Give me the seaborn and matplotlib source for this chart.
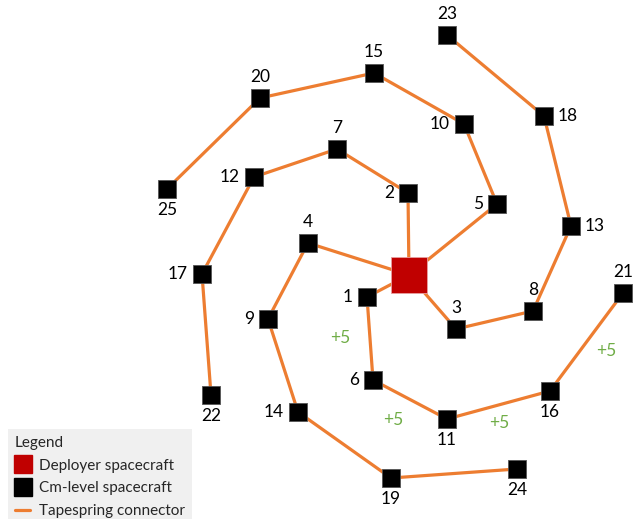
import pandas as pd
import numpy as np
import seaborn as sns
import matplotlib.pyplot as plt
from matplotlib.lines import Line2D

# node positions (pixel grid of the original picture)
node_ids = ['D', '1', '2', '3', '4', '5', '6', '7', '8', '9', '10', '11', '12', '13',
            '14', '15', '16', '17', '18', '19', '20', '21', '22', '23', '24', '25']
node_x = [409, 367, 408, 456, 308, 497, 373, 337, 533, 268, 464, 447, 254, 571,
          298, 374, 550, 202, 544, 391, 260, 623, 211, 447, 517, 167]
node_y = [275, 297, 193, 329, 243, 204, 380, 149, 311, 319, 124, 419, 177, 226,
          412, 73, 391, 274, 116, 478, 98, 293, 395, 35, 469, 189]

# spiral arms of tapespring connectors, starting at the deployer
arms = [['D', '1', '6', '11', '16', '21'],
        ['D', '2', '7', '12', '17', '22'],
        ['D', '3', '8', '13', '18', '23'],
        ['D', '4', '9', '14', '19', '24'],
        ['D', '5', '10', '15', '20', '25']]

# which side each number is written on
label_side = {'1': 'left', '2': 'left', '3': 'above', '4': 'above', '5': 'left',
              '6': 'left', '7': 'above', '8': 'above', '9': 'left', '10': 'left',
              '11': 'below', '12': 'left', '13': 'right', '14': 'left', '15': 'above',
              '16': 'below', '17': 'left', '18': 'right', '19': 'below', '20': 'above',
              '21': 'above', '22': 'below', '23': 'above', '24': 'below', '25': 'below'}

# green "+5" notes
gain_text = ['+5', '+5', '+5', '+5']
gain_x = [340, 393, 499, 606]
gain_y = [338, 420, 423, 351]

orange = '#ED7D31'
red = '#C00000'
green = '#70AD47'

nodes = pd.DataFrame({'id': node_ids, 'x': node_x, 'y': node_y})
nodes['kind'] = np.where(nodes['id'] == 'D', 'Deployer spacecraft', 'Cm-level spacecraft')
pos = nodes.set_index('id')

rows = []
for i, arm in enumerate(arms):
    for order, n in enumerate(arm):
        rows.append({'arm': i, 'order': order, 'x': pos.loc[n, 'x'], 'y': pos.loc[n, 'y']})
edges = pd.DataFrame(rows)

sns.set_style('white')
plt.rcParams['font.family'] = ['Lato', 'DejaVu Sans']

fig = plt.figure(figsize=(6.39, 5.19), dpi=100)
ax = fig.add_axes([0, 0, 1, 1])

sns.lineplot(data=edges, x='x', y='y', units='arm', estimator=None, sort=False,
             color=orange, linewidth=2.3, ax=ax, legend=False, zorder=1)

cm = nodes[nodes['kind'] == 'Cm-level spacecraft']
dep = nodes[nodes['kind'] == 'Deployer spacecraft']
sns.scatterplot(data=cm, x='x', y='y', marker='s', s=150, color='black',
                edgecolor='#555555', linewidth=0.6, ax=ax, legend=False, zorder=3)
sns.scatterplot(data=dep, x='x', y='y', marker='s', s=640, color=red,
                edgecolor='#e8a0a0', linewidth=0.6, ax=ax, legend=False, zorder=3)

offsets = {'left': ((-10, 0), 'right', 'center'),
           'right': ((10, 0), 'left', 'center'),
           'above': ((0, 9.5), 'center', 'bottom'),
           'below': ((0, -9.5), 'center', 'top')}
for n, side in label_side.items():
    off, ha, va = offsets[side]
    ax.annotate(n, (pos.loc[n, 'x'], pos.loc[n, 'y']), xytext=off,
                textcoords='offset points', ha=ha, va=va, fontsize=12.5, color='black')

for t, gx, gy in zip(gain_text, gain_x, gain_y):
    ax.text(gx, gy, t, ha='center', va='center', fontsize=12.5, color=green)

ax.set_xlim(0, 639)
ax.set_ylim(519, 0)
ax.axis('off')

handles = [Line2D([], [], marker='s', linestyle='none', markersize=12.5, color=red),
           Line2D([], [], marker='s', linestyle='none', markersize=12.5, color='black'),
           Line2D([], [], color=orange, linewidth=2.3)]
labels = ['Deployer spacecraft', 'Cm-level spacecraft', 'Tapespring connector']
leg = ax.legend(handles, labels, title='Legend', loc='lower left',
                bbox_to_anchor=(8 / 639, -0.012), borderaxespad=0, fontsize=11,
                title_fontsize=11, alignment='left', handlelength=1.0,
                handletextpad=0.6, labelspacing=0.58, borderpad=0.45,
                fancybox=False, frameon=True)
leg.get_frame().set_facecolor('#F0F0F0')
leg.get_frame().set_edgecolor('none')
leg.get_frame().set_alpha(1)

fig.savefig('out.png', dpi=100)
